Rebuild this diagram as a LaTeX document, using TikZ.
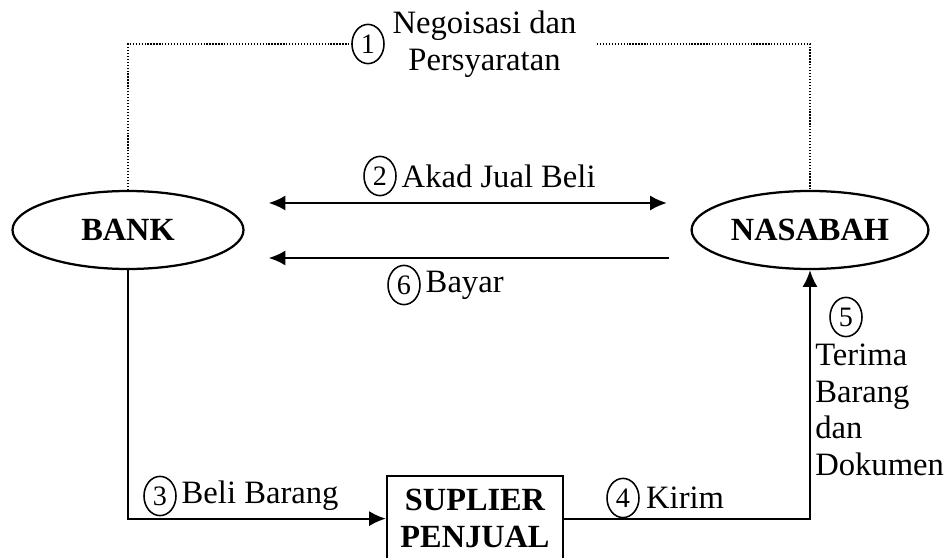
\documentclass[tikz,border=0pt]{standalone}
\usepackage{fontspec}
\setmainfont{Liberation Serif}
\usetikzlibrary{arrows.meta,positioning,shapes.geometric}

\begin{document}
\begin{tikzpicture}[font=\fontsize{23.2}{26}\selectfont,
  >={Latex[length=4.2mm,width=3.8mm]},
  pihak/.style={ellipse, draw, line width=1.6pt, minimum width=5.775cm, minimum height=1.95cm, font=\fontsize{23}{26}\selectfont\bfseries},
  nomor/.style={ellipse, draw, line width=1.1pt, minimum width=0.8cm, minimum height=0.98cm, inner sep=0pt, font=\fontsize{20}{20}\selectfont},
  alur/.style={line width=1.6pt},
  titik/.style={line width=1.1pt, dash pattern=on 0.9pt off 1.2pt}]
\useasboundingbox (0,0) rectangle (23.65,-13.95);

% pihak-pihak
\node[pihak] (bank) at (3.2,-5.75) {BANK};
\node[pihak] (nasabah) at (20.25,-5.75) {NASABAH};
\node[draw, line width=1.6pt, minimum width=4.4cm, minimum height=2.125cm, align=center, font=\fontsize{23}{26}\selectfont\bfseries, anchor=north] (suplier) at (11.875,-11.875) {SUPLIER\\PENJUAL};

% nomor dan keterangan
\node[nomor] (n1) at (9.2,-1.1) {1};
\node[right=2pt of n1, align=center] (negosiasi) {Negoisasi dan\\Persyaratan};
\coordinate (syarat) at (14.925,-1.1);
\node[nomor] (n2) at (9.5,-4.4) {2};
\node[right=0pt of n2] (akad) {Akad Jual Beli};
\node[nomor] (n6) at (10.1,-7.125) {6};
\node[right=0pt of n6] (bayar) {Bayar};
\node[nomor] (n3) at (4.0,-12.4) {3};
\node[right=0pt of n3] (beli) {Beli Barang};
\node[nomor] (n4) at (15.575,-12.45) {4};
\node[right=1pt of n4] (kirim) {Kirim};
\node[nomor] (n5) at (21.15,-7.925) {5};
\node[anchor=north west, align=left, inner sep=0pt] (terima) at (20.375,-8.6) {Terima\\Barang\\dan\\Dokumen};

% alur
\draw[titik] (bank.north) |- (n1.west);
\draw[titik] (syarat) -| (nasabah.north);
\draw[alur, <->] ([shift={(0.6,0.675)}]bank.east) -- ([shift={(-0.59,0.675)}]nasabah.west);
\draw[alur, ->] ([shift={(-0.54,-0.7)}]nasabah.west) -- ([shift={(0.6,-0.7)}]bank.east);
\draw[alur, ->] (bank.south) |- (suplier.west);
\draw[alur, ->] (suplier.east) -| (nasabah.south);
\end{tikzpicture}
\end{document}
